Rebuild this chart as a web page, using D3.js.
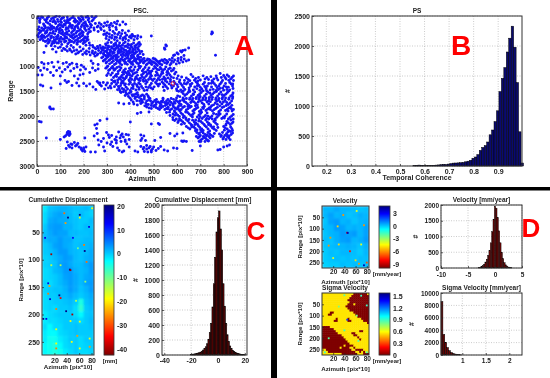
<!DOCTYPE html>
<html>
<head>
<meta charset="utf-8">
<script src="https://cdn.jsdelivr.net/npm/d3@7"></script>
<style>
html, body { margin: 0; padding: 0; background: #fff; }
svg { display: block; filter: blur(0.35px); }
text { font-family: "Liberation Sans", sans-serif; font-weight: bold; fill: #222; }
</style>
</head>
<body>
<script>
// panel A, scatter of [azimuth, range]
const pscPoints = [
[6,20],[14,60],[25,30],[38,90],[50,15],[62,55],[75,25],[88,70],[96,12],[108,40],[118,95],[130,22],[142,60],[155,15],[165,85],[178,35],[190,12],[198,70],[210,25],[222,50],[235,15],[246,40],[12,130],[28,160],[40,120],[55,170],[68,115],[80,150],[92,190],[105,130],[116,170],[128,110],[140,150],[152,190],[164,125],[176,165],[188,105],[200,145],[212,185],[224,120],[236,100],[250,150],[262,200],[275,170],[290,140],[302,120],[318,150],[332,130],[345,105],[8,220],[20,240],[34,205],[48,235],[60,215],[74,245],[86,225],[100,240],[112,215],[126,235],[138,210],[150,245],[162,220],[176,240],[190,215],[204,235],[216,205],[230,225],[244,240],[258,220],[272,235],[285,210],[298,190],[310,230],[324,200],[338,230],[355,180],[368,120],[380,165],
[5,270],[18,300],[30,260],[44,290],[58,275],[70,310],[84,265],[98,295],[110,320],[124,270],[136,300],[148,335],[160,280],[172,310],[186,270],[198,330],[210,290],[222,265],[245,280],[262,310],[275,270],[288,300],[300,340],[312,280],[326,310],[340,270],[352,330],[366,290],[378,340],[392,300],[8,350],[22,380],[36,345],[50,375],[62,400],[76,360],[90,385],[104,350],[118,395],[130,365],[144,410],[158,370],[170,400],[184,355],[196,385],[206,420],[286,370],[298,400],[310,360],[322,390],[334,420],[346,370],[358,400],[370,440],[384,385],[396,420],[408,370],[420,410],[432,395],[445,420],[6,420],[20,450],[34,430],[48,465],[60,440],[74,480],[88,450],[102,425],[116,470],[128,440],[142,490],[156,450],[170,480],[184,430],[198,470],[212,495],[296,450],[308,480],[320,440],[332,470],[344,495],[356,445],[368,480],[380,455],[392,490],[404,440],[416,475],[430,450],[490,400],
[52,520],[64,555],[78,510],[92,540],[106,570],[118,520],[132,555],[146,590],[158,530],[172,565],[186,510],[198,550],[210,585],[224,540],[240,620],[252,660],[262,640],[270,590],[282,620],[294,560],[306,600],[318,530],[330,570],[342,610],[354,540],[366,585],[378,520],[390,560],[402,600],[414,540],[426,580],[438,530],[100,620],[114,650],[128,610],[140,660],[156,630],[170,680],[184,620],[198,660],[212,700],[224,650],[238,700],[250,730],[264,690],[278,660],[290,710],[302,640],[314,680],[326,720],[338,650],[350,700],[362,640],[374,680],[386,720],[398,650],[410,700],[422,630],[434,670],[82,720],[30,730],[130,700],[150,720],[166,760],[180,720],[196,770],[212,760],[228,780],[244,760],[258,780],[272,740],[286,770],[300,730],[312,770],[324,750],[336,790],[348,740],[360,780],[372,730],[384,770],[396,740],[408,780],[420,745],[432,785],[552,580],[555,600],[546,640],[548,665],[625,690],[615,700],[600,740],[605,760],[585,790],[590,780],[750,320],[752,340],[748,360],[765,785],[650,640],[635,680],[620,720],[455,770],
[20,930],[30,960],[48,950],[64,930],[90,920],[112,950],[126,930],[140,970],[150,945],[170,965],[190,985],[232,900],[240,950],[262,970],[282,820],[294,860],[306,810],[318,850],[330,800],[342,840],[354,880],[366,820],[378,860],[390,800],[402,850],[414,810],[426,870],[438,830],[284,900],[296,940],[308,890],[320,930],[332,970],[344,900],[356,950],[368,880],[380,930],[392,900],[404,950],[416,890],[428,940],[440,880],[452,870],[462,900],[474,860],[486,890],[498,850],[510,880],[520,920],[456,940],[468,980],[480,930],[492,970],[504,940],[516,990],[528,960],[540,900],[555,890],[568,870],[580,840],[556,950],[570,980],[590,880],[605,850],[618,830],[630,790],[610,940],[625,920],[640,900],[650,880],
[5,1030],[15,1090],[22,1180],[4,1180],[30,1040],[44,1070],[58,1130],[72,1020],[84,1090],[96,1040],[108,1120],[120,1070],[132,1020],[144,1100],[158,1050],[172,1020],[186,1080],[200,1020],[184,1180],[198,1160],[208,1060],[226,1130],[238,1040],[250,1090],[262,1060],[100,1200],[70,1190],[120,1290],[135,1310],[176,1260],[160,1200],[300,1020],[312,1070],[324,1010],[336,1060],[348,1110],[360,1040],[372,1090],[384,1140],[396,1050],[408,1110],[420,1020],[432,1080],[444,1010],[456,1070],[468,1120],[480,1040],[492,1100],[504,1010],[516,1070],[528,1030],[540,1090],[552,1020],[564,1060],[576,1100],[316,1180],[328,1230],[340,1170],[352,1240],[364,1190],[376,1260],[388,1180],[400,1240],[412,1160],[424,1220],[436,1280],[448,1180],[460,1240],[472,1170],[484,1230],[496,1290],[508,1190],[520,1250],[532,1170],[544,1220],[556,1180],[572,1270],[590,1160],[600,1250],[620,1220],[640,1240],[660,1170],[680,1250],[700,1280],[720,1260],[735,1270],[770,1240],[785,1150],[800,1190],[815,1180],[830,1260],[842,1200],[775,1280],[795,1290],[810,1260],
[15,1380],[25,1400],[60,1440],[100,1360],[128,1330],[150,1390],[170,1340],[180,1400],[200,1350],[212,1400],[226,1360],[240,1420],[252,1470],[264,1340],[276,1400],[290,1460],[302,1340],[314,1400],[328,1310],[340,1370],[352,1440],[364,1310],[376,1380],[388,1460],[400,1330],[412,1400],[424,1480],[436,1340],[448,1410],[460,1490],[472,1320],[484,1390],[496,1460],[508,1330],[520,1400],[536,1320],[548,1380],[560,1450],[572,1310],[585,1400],[598,1460],[610,1320],[622,1390],[634,1470],[646,1330],[658,1400],[670,1480],[682,1320],[694,1390],[706,1460],[718,1330],[730,1400],[742,1480],[754,1320],[766,1390],[778,1470],[790,1330],[802,1400],[814,1470],[826,1330],[838,1400],[355,1490],[372,1470],[400,1490],[545,1490],
[360,1530],[378,1590],[396,1540],[410,1600],[424,1560],[438,1630],[452,1580],[404,1680],[420,1650],[440,1700],[460,1660],[476,1600],[620,1520],[634,1590],[648,1530],[662,1600],[676,1520],[690,1590],[704,1530],[718,1600],[732,1520],[746,1590],[760,1530],[774,1600],[788,1520],[802,1590],[816,1530],[830,1600],[840,1540],[470,1700],[484,1650],[498,1720],[512,1670],[526,1740],[540,1680],[554,1750],[568,1700],[582,1760],[596,1690],[610,1750],[624,1680],[638,1730],[652,1790],[666,1680],[680,1750],[694,1670],[708,1740],[722,1680],[736,1760],[750,1670],[764,1740],[778,1680],[792,1760],[806,1690],[820,1770],[834,1700],[350,1740],[372,1760],[395,1750],[415,1760],[430,1780],[445,1750],[470,1770],[490,1790],[510,1770],[530,1800],[550,1790],[570,1780],
[470,1820],[490,1850],[510,1830],[525,1870],[540,1810],[555,1850],[570,1880],[585,1820],[598,1860],[612,1900],[625,1830],[640,1880],[655,1830],[668,1900],[682,1850],[696,1910],[710,1830],[724,1890],[738,1840],[752,1900],[766,1850],[780,1910],[794,1830],[808,1890],[822,1840],[836,1900],[430,1950],[445,1930],[480,1920],[555,1930],[570,1990],[582,2030],[596,1950],[610,2010],[624,1970],[638,2040],[652,1960],[666,2020],[680,2080],[694,1980],[708,2050],[722,1990],[736,2060],[750,2000],[764,2060],[778,1990],[792,2050],[806,2000],[820,2060],[834,2000],[590,2090],[604,2130],[618,2090],[632,2150],[646,2100],[660,2170],[674,2120],[688,2170],[702,2110],[716,2170],[730,2120],[744,2180],[758,2110],[772,2170],[814,2110],[828,2170],[840,2120],[490,2160],[520,2150],[525,2170],[300,2060],[270,2090],[248,2180],[258,2160],[400,2120],[55,1820],[60,1860],[70,1860],[55,1840],[10,2110],[18,2120],
[640,2210],[655,2260],[672,2220],[686,2280],[698,2230],[712,2290],[726,2220],[740,2300],[752,2240],[768,2290],[782,2360],[800,2210],[815,2260],[830,2220],[838,2290],[685,2330],[700,2390],[712,2340],[726,2400],[740,2360],[754,2410],[795,2330],[805,2390],[818,2320],[832,2370],[690,2440],[702,2480],[716,2430],[730,2480],[742,2440],[800,2430],[810,2470],[822,2440],[570,2350],[625,2340],[600,2360],[130,2330],[136,2350],[128,2370],[138,2390],[122,2400],[140,2320],[116,2420],[40,2440],[100,2470],[205,2440],[298,2330],[306,2380],[320,2390],[334,2470],[350,2320],[360,2390],[370,2420],[382,2370],[356,2440],[340,2420],[310,2430],[395,2470],[255,2250],[258,2350],[245,2400],[262,2480],[285,2450],[445,2380],[458,2400],[450,2450],[465,2490],[445,2490],[505,2490],[530,2430],[590,2400],[630,2500],[620,2500],
[125,2650],[135,2590],[140,2620],[150,2570],[160,2530],[170,2580],[180,2620],[150,2640],[130,2520],[190,2670],[200,2640],[210,2620],[195,2700],[205,2710],[230,2720],[250,2720],[275,2510],[265,2580],[285,2620],[290,2700],[300,2540],[315,2570],[325,2610],[340,2540],[345,2640],[352,2690],[365,2720],[378,2510],[385,2560],[395,2620],[372,2700],[360,2510],[420,2700],[432,2720],[445,2610],[455,2660],[470,2590],[480,2640],[490,2690],[500,2620],[510,2690],[520,2650],[530,2610],[545,2680],[460,2710],[475,2720],[490,2720],[560,2700],[585,2640],[600,2650],[625,2510],[640,2510],[665,2690],[720,2510],[735,2500],[775,2680],[785,2670],[800,2620],[815,2600],[825,2580],[695,2510],[700,2600],
[3,45],[19,18],[33,72],[44,33],[57,98],[69,41],[83,8],[91,112],[103,67],[114,29],[123,143],[137,84],[149,37],[161,52],[173,108],[183,66],[195,31],[207,119],[219,82],[229,164],[241,73],[253,12],[31,188],[47,141],[63,199],[79,121],[97,167],[109,201],[121,181],[133,129],[147,213],[169,197],[181,139],[193,179],[209,159],[27,284],[41,327],[53,251],[67,343],[81,301],[95,331],[107,283],[121,349],[133,251],[153,307],[167,341],[179,293],[193,307],[205,257],[217,361],[229,309],[13,327],[3,391],[17,411],[29,398],[43,407],[57,339],[71,431],[83,417],[97,461],[111,371],[125,417],[139,379],[151,431],[163,419],[177,449],[191,403],[203,443],[217,413],[13,473],[27,491],[41,499],[55,487],[67,513],[81,467],[95,497],[109,459],[123,503],[137,473],[149,511],[163,493],[177,511],[191,487],[205,527],[219,473],
[238,587],[247,637],[259,611],[273,641],[281,683],[291,633],[297,587],[303,671],[309,617],[317,707],[321,643],[329,601],[333,683],[339,577],[347,631],[351,669],[357,603],[363,711],[369,653],[377,611],[381,691],[389,631],[393,579],[399,673],[407,627],[413,661],[419,599],[425,719],[431,641],[437,607],[443,571],[285,747],[293,789],[305,753],[317,793],[331,733],[343,777],[355,729],[367,757],[379,793],[391,763],[403,731],[415,763],[427,717],[441,751],[449,711],[275,721],[261,757],[249,803],[237,737],[223,719],[205,733],[189,697],[175,741],[159,693],[143,687],[121,671],[107,693],[91,637],[77,607],[61,593],[47,547],[39,601],[67,663],[85,541],
[277,837],[289,883],[301,831],[313,873],[325,821],[337,871],[349,817],[361,857],[373,897],[385,841],[397,881],[409,833],[421,893],[433,853],[445,827],[299,917],[311,957],[327,903],[339,949],[351,921],[363,977],[375,911],[387,967],[399,921],[411,971],[423,911],[435,959],[447,903],[459,849],[471,887],[481,871],[493,913],[505,861],[515,903],[459,919],[473,957],[487,947],[499,919],[511,961],[523,941],[535,975],[547,933],[561,919],[575,951],[585,921],[597,961],[603,901],[617,881],[631,861],[577,893],[547,867],[535,877],[527,903],
[295,1043],[307,1091],[319,1037],[331,1087],[343,1031],[355,1081],[367,1127],[379,1061],[391,1111],[403,1021],[415,1073],[427,1127],[439,1043],[451,1097],[463,1031],[475,1079],[487,1137],[499,1057],[511,1117],[523,1077],[535,1119],[547,1063],[559,1103],[571,1043],[583,1083],[595,1123],[305,1147],[323,1141],[335,1197],[347,1153],[359,1221],[371,1163],[383,1211],[395,1149],[407,1199],[419,1141],[431,1187],[443,1243],[455,1153],[467,1207],[479,1143],[491,1197],[503,1257],[515,1151],[527,1209],[539,1143],[551,1261],[563,1143],[575,1213],[605,1197],[320,1277],[334,1299],[346,1279],[358,1267],[370,1293],[382,1233],[394,1281],[406,1269],[418,1291],[430,1253],[442,1293],[454,1273],[466,1289],[478,1271],[490,1259],[514,1289],[526,1277],[538,1265],[550,1297],[562,1241],[585,1237],[612,1281],[632,1291],[648,1269],[668,1213],[692,1231],[712,1197],[728,1231],[745,1213],[758,1259],[768,1197],[790,1231],[806,1229],[822,1211],[836,1231],[842,1289],[655,1293],[675,1285],[690,1297],[750,1295],[822,1287],
[258,1311],[270,1373],[284,1329],[296,1381],[306,1437],[320,1351],[332,1413],[346,1331],[358,1393],[370,1339],[382,1423],[394,1367],[406,1443],[418,1349],[430,1411],[442,1363],[454,1447],[466,1353],[478,1429],[490,1351],[502,1417],[514,1361],[526,1359],[542,1349],[554,1413],[566,1357],[578,1439],[592,1351],[604,1417],[616,1353],[628,1431],[640,1361],[652,1437],[664,1349],[676,1421],[688,1351],[700,1427],[712,1363],[724,1437],[736,1351],[748,1421],[760,1353],[772,1433],[784,1363],[796,1441],[808,1351],[820,1423],[832,1361],[840,1449],[345,1473],[365,1449],[380,1497],[412,1449],[437,1467],[472,1479],[600,1493],[616,1477],[627,1501],[652,1481],[685,1453],[698,1487],[712,1497],[725,1459],[755,1467],[768,1489],[785,1447],[800,1483],[826,1477],
[370,1515],[387,1563],[403,1517],[416,1573],[430,1533],[445,1601],[460,1621],[470,1563],[392,1611],[428,1617],[412,1721],[428,1693],[452,1727],[466,1741],[478,1683],[492,1751],[505,1689],[519,1719],[533,1707],[547,1731],[561,1671],[575,1731],[589,1719],[603,1713],[617,1767],[631,1709],[645,1759],[659,1731],[673,1717],[687,1779],[701,1701],[715,1771],[729,1719],[743,1713],[757,1777],[771,1707],[785,1719],[799,1721],[813,1729],[827,1741],[627,1553],[641,1563],[655,1637],[669,1561],[683,1631],[697,1559],[711,1641],[725,1563],[739,1627],[753,1559],[767,1637],[781,1561],[795,1629],[809,1563],[823,1641],[837,1577],[612,1613],[626,1639],[640,1651],[654,1667],[668,1647],[682,1653],[696,1633],[710,1677],[724,1641],[738,1661],[752,1627],[766,1671],[780,1647],[794,1659],[808,1639],[822,1667],[838,1649],[598,1641],[585,1667],[575,1651],[555,1701],[540,1643],
[462,1797],[480,1841],[500,1811],[518,1849],[532,1837],[548,1871],[562,1823],[577,1861],[592,1841],[604,1829],[618,1869],[632,1811],[647,1857],[661,1811],[675,1871],[689,1829],[703,1881],[717,1809],[731,1863],[745,1817],[759,1873],[773,1827],[787,1881],[801,1813],[815,1869],[829,1823],[842,1871],[568,1923],[583,1961],[590,1917],[603,1983],[617,1939],[631,2003],[645,1929],[659,1991],[673,1941],[687,2021],[701,1951],[715,2017],[729,1941],[743,2029],[757,1951],[771,2027],[785,1959],[799,2023],[813,1961],[827,2029],[841,1971],[597,2061],[611,2057],[625,2121],[639,2071],[653,2137],[667,2083],[681,2141],[695,2057],[709,2141],[723,2079],[737,2147],[751,2059],[765,2139],[820,2137],[835,2147],[583,2073],
[648,2237],[664,2191],[678,2249],[692,2201],[706,2257],[720,2197],[733,2261],[746,2207],[760,2263],[775,2231],[806,2237],[822,2293],[809,2183],[835,2253],[679,2297],[693,2361],[706,2311],[720,2371],[733,2331],[747,2387],[760,2350],[790,2390],[812,2353],[824,2399],[838,2341],[683,2411],[696,2417],[709,2457],[723,2451],[737,2411],[788,2411],[797,2459],[816,2417],[828,2473],[702,2511],
[142,2360],[134,2310],[145,2560],[165,2600],[175,2550],[200,2665],[188,2640],[458,2630],[470,2660],[485,2610],[495,2660],[340,2490],[320,2520],[378,2480],[392,2380],[365,2360],
[607,1507],[655,1511],[671,1571],[699,1609],[727,1497],[741,1543],[769,1511],[793,1573],[821,1507],[839,1621],[603,1597],[629,1671],[663,1709],[691,1721],[735,1697],[773,1767],[811,1789],[835,1787],[617,1789],[647,1811],[679,1797],[713,1849],[749,1793],[783,1797],[833,1853],[607,1871],[637,1921],[673,1887],[705,1923],[743,1871],[779,1941],[819,1901],[591,1987],[627,2031],[667,1969],[699,2013],[733,2003],[769,1967],[803,2041],[841,2061],[607,2093],[651,2071],[693,2099],[727,2049],[763,2083],[831,2081],[619,2167],[677,2171],[735,2173],[811,2157],[663,2221],[701,2277],[757,2217],[803,2283],[829,2311],[697,2337],[729,2379],[815,2377],[713,2411],[733,2497],
[303,1003],[327,1051],[353,1013],[377,1123],[401,1089],[437,1003],[459,1131],[483,1109],[509,1039],[533,1059],[557,1127],[587,1049],[299,1189],[341,1211],[369,1237],[399,1187],[421,1253],[451,1213],[487,1181],[519,1187],[547,1249],[569,1177],[333,1321],[361,1351],[397,1311],[427,1373],[457,1307],[489,1439],[519,1367],[557,1321],[587,1311],[269,1339],[317,1439],[349,1409],[379,1361],[409,1373],[437,1433],[467,1417],[541,1419],[575,1389],[601,1373],[631,1349],[657,1367],[687,1393],[719,1411],[747,1347],[779,1403],[811,1417],[839,1361],
[11,97],[43,61],[73,89],[101,109],[131,71],[159,103],[187,79],[217,11],[37,237],[71,223],[103,187],[143,177],[173,211],[203,199],[233,183],[267,139],[311,183],[341,161],[11,291],[37,313],[65,257],[93,271],[127,323],[161,259],[191,341],[221,331],[293,361],[333,351],[363,353],[401,401],[25,431],[59,417],[89,409],[119,443],[151,389],[181,377],[213,449],[311,421],[341,431],[377,419],[411,401],[35,511],[73,539],[103,513],[139,527],[171,541],[201,501],[227,587],[303,533],[337,541],[371,547],[405,571],[433,553],[287,651],[319,613],[351,587],[383,599],[411,679],[439,699],[297,697],[329,661],[359,679],[393,703],[421,673],[313,727],[347,713],[383,747],[413,729],[303,791],[339,823],[371,781],[403,797],[431,813],[297,801],[325,851],[357,901],[391,847],[419,851],[343,889],[377,951],[409,921],[441,931],
[357,1517],[381,1537],[407,1573],[433,1579],[459,1601],[479,1631],[399,1643],[421,1617],[447,1663],[487,1701],[511,1731],[537,1721],[563,1741],[591,1747],[613,1701],[451,1701],[477,1771],[503,1789],[531,1767],[557,1771],[583,1789],[607,1801],[527,1811],[561,1857],[589,1893]
];
const pscReference = [583, 1350];

// panel B, histogram
const coherenceStart = 0.558;
const coherenceWidth = 0.01;
const coherenceCounts = [10,12,15,10,8,8,10,10,12,15,18,22,28,25,32,40,48,50,52,55,60,70,80,95,130,150,190,260,310,340,400,520,600,740,920,1240,1460,1640,1900,2130,2330,1980,1390,570,50];

// panel C, map cells in mm (rows top to bottom) and isolated points [azimuth, range, mm]
const displacementGrid = [
[-2,.5,1,1.5,1.5,1,.5,.5,1,0],
[-1,1,2,2.5,1.5,1,0,1,0,-.5],
[-1,2,2.5,2,2,1,.5,0,0,1],
[0,2.5,3,3,1.5,1.5,.5,0,1,.5],
[.5,2,3,2.5,2.5,1,1,.5,.5,1],
[1,2,2,3,2,2,.5,.5,1,1],
[0,1,2.5,3,2,1.5,.5,1,1,1.5],
[0,.5,1.5,3,3,1.5,1,.5,1,2],
[-.5,0,1,2,3,2.5,1,.5,1.5,2],
[-.5,0,.5,2.5,3,2,1,1,2,3],
[-1,-.5,1,1.5,3,3,1.5,1,1.5,3],
[-1,-.5,0,1,2.5,3,2,1,2,2.5],
[-.5,-1,0,1,2,3,2,1,2.5,3],
[-.5,0,.5,.5,1.5,3,2,.5,1.5,3],
[-1,0,0,1,1,2,1,0,1,2],
[-1,-.5,0,0,.5,1,0,-5,.5,1.5],
[-1,-.5,-1,0,0,.5,-1,-6,0,1],
[-2,-1,-.5,0,0,0,-1,-3,0,.5],
[-2,-1,-1,-.5,0,0,0,-1,0,1],
[-1,-3,-1,-1,0,0,.5,0,0,.5],
[-2,-3,-3,-1,-.5,0,.5,0,0,0],
[-2,-4,-4,-2,-1,0,0,-1,0,0],
[-3,-4,-5,-3,-1,-.5,0,-1,-.5,0],
[-3,-4,-5,-4,-2,-1,0,-1,-1,-.5]
];
const displacementSpecks = [[36,15,-28],[42,23,20],[38,33,-25],[61,18,20],[61,23,-18],[76,40,14],[81,6,-18],[68,73,-27],[58,79,-10],[69,84,20],[72,104,-28],[15,90,-40],[45,118,20],[46,119,-40],[10,143,14],[12,148,-25],[10,162,-27],[28,165,20],[30,170,-35],[13,172,14],[23,190,-27],[39,194,20],[49,200,-40],[2,208,20],[7,208,14],[46,212,-18],[61,213,-18],[23,227,-18],[57,239,-25],[77,244,-18],[48,250,-18],[23,262,-27],[23,253,-18],[61,262,-18],[77,259,-25],[15,110,-15],[55,175,-14],[5,60,14],[50,60,12],[70,140,-12],[30,110,-14]];
const displacementTicks = [20,10,0,-10,-20,-30,-40];

const displacementBins = [-20,-19,-18,-17,-16,-15,-14,-13,-12,-11,-10,-9,-8,-7,-6,-5,-4,-3,-2,-1,0,1,2,3,4,5,6,7,8,9,10,11,12,13,14,15,16,17,18,19,20];
const displacementCounts = [8,10,12,15,20,25,30,38,50,65,85,110,150,210,300,420,640,950,1300,1640,1830,1920,1680,1400,950,650,420,270,180,120,85,60,45,35,25,20,15,10,8,5,3];

// panel D, velocity map
const velocityGrid = [
[.3,.3,.5,.3,.3,.2,.1,.2],
[.3,.6,.3,.4,.1,.2,.4,.3],
[.1,.6,.7,.3,.4,.1,.3,.4],
[.2,.3,.7,.6,.3,.4,.3,.6],
[.1,.3,.4,.7,.6,.7,.3,.6],
[.2,.1,.4,.6,.7,.3,.4,.7],
[.1,.2,.3,.3,.4,.3,.1,.4],
[0,.2,.1,.3,.3,.2,0,.3],
[0,.1,.2,.1,.2,.1,.2,.2],
[-.1,0,0,.2,.1,.2,.1,.2]
];
const velocitySpecks = [[45,118,-9],[46,119,4],[15,140,-6],[30,170,-5],[50,200,-8],[62,22,-4],[75,85,-6],[28,90,-5],[70,170,-4],[80,250,-7],[75,262,4],[20,230,-4],[60,240,-5],[38,40,-6],[12,175,-6],[66,255,-6]];
const velocityTicks = [3,0,-3,-6,-9];

const velocityBins = [-3,-2.75,-2.5,-2.25,-2,-1.75,-1.5,-1.25,-1,-.75,-.5,-.25,0,.25,.5,.75,1,1.25,1.5,1.75,2,2.25,2.5,2.75,3];
const velocityCounts = [10,20,40,70,120,190,280,400,560,800,1150,1550,1960,1900,1600,1180,800,500,300,170,100,60,30,15,8];

// sigma map, one digit per cell, 0 is about 0 mm/year and 5 about 0.55
const sigmaRows = [
"555555555555555500000005",
"555555555555555000000000",
"555555555555550000000000",
"555555555555500000000000",
"555555555555550000000000",
"555555555555500050000000",
"555555555555000000000000",
"555555555555500000000000",
"555555555555550000000000",
"555500555555555500000000",
"555005555555555550000000",
"555555555555555555000000",
"555555505555505555550000",
"555555005555500555555000",
"555555555555555555555550",
"555555555555555555555555",
"000055555555555555555555",
"000000555555555555555555",
"000000055555555555500555",
"000000005555555005555555",
"000000000055555500555555",
"000000000005555555055555",
"000000000000555555505555",
"000000000000055555555555",
"000000000000005555555555",
"000000000005000055555555",
"000000000500005505555555",
"550000000000000550000555",
"555000000000000005505055",
"555555555500000000555000"
];
const sigmaSpecks = [[45,118,1.3],[40,10,.85],[70,12,.9],[80,55,.9],[30,60,.8],[12,200,.85],[40,165,.9],[65,212,.85],[5,262,.9],[80,262,.85],[62,100,.8]];
const sigmaTicks = [1.5,1.2,.9,.6,.3,0];

const sigmaStart = 0.566;
const sigmaWidth = 0.04;
const sigmaCounts = [8600,3300,2000,1200,700,400,250,150,80,50,30];

const svg = d3.select("body").append("svg").attr("width", 550).attr("height", 378);

function jet(lo, hi) {
    let s = d3.scaleLinear()
        .domain([0, .125, .375, .625, .875, 1].map(t => hi - t * (hi - lo)))
        .range(["#00007f", "#0000ff", "#00ffff", "#ffff00", "#ff0000", "#7f0000"])
        .clamp(true);
    return s;
}

// frame, ticks, dotted grid and labels for one axes box
function drawAxes(box, x, y, o) {
    let g = svg.append("g");
    let xa = d3.axisBottom(x).tickValues(o.xTicks).tickFormat(o.xFormat || String).tickSize(-2).tickPadding(o.xPad || 3);
    let ya = d3.axisLeft(y).tickValues(o.yTicks).tickFormat(String).tickSize(-2).tickPadding(2);

    if (o.grid) {
        g.selectAll(".gx").data(o.xTicks).enter().append("line")
            .attr("x1", d => x(d)).attr("x2", d => x(d))
            .attr("y1", box.y0).attr("y2", box.y1)
            .attr("stroke", "#aaa").attr("stroke-width", 0.6).attr("stroke-dasharray", "1,1.5");
        g.selectAll(".gy").data(o.yTicks).enter().append("line")
            .attr("x1", box.x0).attr("x2", box.x1)
            .attr("y1", d => y(d)).attr("y2", d => y(d))
            .attr("stroke", "#aaa").attr("stroke-width", 0.6).attr("stroke-dasharray", "1,1.5");
    }

    let over = svg.append("g").attr("class", "frame");
    o.marks && o.marks(g);

    let xg = over.append("g").attr("transform", "translate(0," + box.y1 + ")").call(xa);
    let yg = over.append("g").attr("transform", "translate(" + box.x0 + ",0)").call(ya);
    xg.select(".domain").remove();
    yg.select(".domain").remove();
    over.selectAll(".tick line").attr("stroke", "#222").attr("stroke-width", 0.7);
    over.selectAll(".tick text").attr("font-size", o.tickSize || 7).style("fill", "#222");
    over.append("rect")
        .attr("x", box.x0).attr("y", box.y0)
        .attr("width", box.x1 - box.x0).attr("height", box.y1 - box.y0)
        .attr("fill", "none").attr("stroke", "#333").attr("stroke-width", 1);

    over.append("text").attr("x", o.titleX || (box.x0 + box.x1) / 2).attr("y", box.y0 - 3.5)
        .attr("text-anchor", "middle").attr("font-size", o.titleSize || 6.5).text(o.title);
    if (o.xLabel) {
        over.append("text").attr("x", (box.x0 + box.x1) / 2).attr("y", box.y1 + (o.xLabelDy || 13))
            .attr("text-anchor", "middle").attr("font-size", o.labelSize || 7).text(o.xLabel);
    }
    if (o.yLabel) {
        over.append("text")
            .attr("transform", "translate(" + (box.x0 - (o.yLabelDx || 22)) + "," + (box.y0 + box.y1) / 2 + ") rotate(-90)")
            .attr("text-anchor", "middle").attr("font-size", o.labelSize || 7).text(o.yLabel);
    }
}

function histogram(box, xDomain, yMax, bars, width, fill, o) {
    let x = d3.scaleLinear().domain(xDomain).range([box.x0, box.x1]);
    let y = d3.scaleLinear().domain([0, yMax]).range([box.y1, box.y0]);
    o.grid = true;
    o.marks = function(g) {
        g.selectAll(".bar").data(bars).enter().append("rect")
            .attr("x", d => x(d[0] - width / 2))
            .attr("width", d => x(d[0] + width / 2) - x(d[0] - width / 2))
            .attr("y", d => y(d[1]))
            .attr("height", d => box.y1 - y(d[1]))
            .attr("fill", fill).attr("stroke", "#000").attr("stroke-width", o.barStroke || 0.5);
    };
    drawAxes(box, x, y, o);
}

function mapPanel(box, grid, specks, xMax, yMax, color, o) {
    let x = d3.scaleLinear().domain([0, xMax]).range([box.x0, box.x1]);
    let y = d3.scaleLinear().domain([0, yMax]).range([box.y0, box.y1]);
    let cols = d3.scaleBand().domain(d3.range(grid[0].length)).range([box.x0, box.x1]);
    let rows = d3.scaleBand().domain(d3.range(grid.length)).range([box.y0, box.y1]);
    let id = "clip" + box.x0 + box.y0;
    let blur = "blur" + box.x0 + box.y0;
    let defs = svg.append("defs");
    defs.append("clipPath").attr("id", id).append("rect")
        .attr("x", box.x0).attr("y", box.y0).attr("width", box.x1 - box.x0).attr("height", box.y1 - box.y0);
    defs.append("filter").attr("id", blur).append("feGaussianBlur").attr("stdDeviation", o.smooth);
    o.marks = function(g) {
        let inner = g.append("g").attr("clip-path", "url(#" + id + ")");
        let cells = inner.append("g").attr("filter", "url(#" + blur + ")");
        grid.forEach(function(row, r) {
            cells.selectAll(".c" + r).data(row).enter().append("rect")
                .attr("x", (d, c) => cols(c)).attr("y", rows(r))
                .attr("width", cols.bandwidth() + 0.5).attr("height", rows.bandwidth() + 0.5)
                .attr("fill", d => color(d));
        });
        inner.selectAll(".speck").data(specks).enter().append("rect")
            .attr("x", d => x(d[0]) - 0.9).attr("y", d => y(d[1]) - 0.9)
            .attr("width", 1.8).attr("height", 1.8)
            .attr("fill", d => color(d[2]));
    };
    drawAxes(box, x, y, o);
}

function colorbar(box, lo, hi, ticks, color, label, labelX) {
    let y = d3.scaleLinear().domain([lo, hi]).range([box.y1, box.y0]);
    let g = svg.append("g");
    g.selectAll("rect").data(d3.range(box.y0, box.y1)).enter().append("rect")
        .attr("x", box.x0).attr("y", d => d)
        .attr("width", box.x1 - box.x0).attr("height", 1.2)
        .attr("fill", d => color(y.invert(d + 0.5)));
    g.append("rect")
        .attr("x", box.x0).attr("y", box.y0)
        .attr("width", box.x1 - box.x0).attr("height", box.y1 - box.y0)
        .attr("fill", "none").attr("stroke", "#333").attr("stroke-width", 0.8);
    let ax = g.append("g").attr("transform", "translate(" + box.x1 + ",0)")
        .call(d3.axisRight(y).tickValues(ticks).tickFormat(String).tickSize(0).tickPadding(3));
    ax.select(".domain").remove();
    ax.selectAll("text").attr("font-size", 7).style("fill", "#222");
    g.append("text").attr("x", labelX).attr("y", box.y1 + 8)
        .attr("text-anchor", "middle").attr("font-size", 6).text(label);
}

// panel A
(function() {
    let box = {x0: 37, x1: 247, y0: 16, y1: 166};
    let x = d3.scaleLinear().domain([0, 900]).range([box.x0, box.x1]);
    let y = d3.scaleLinear().domain([0, 3000]).range([box.y0, box.y1]);
    drawAxes(box, x, y, {
        grid: true,
        xTicks: d3.range(0, 901, 100), yTicks: d3.range(0, 3001, 500),
        title: "PSC.", titleX: 141, xLabel: "Azimuth", xLabelDy: 15, yLabel: "Range", yLabelDx: 24,
        marks: function(g) {
            g.selectAll("circle.p").data(pscPoints).enter().append("circle")
                .attr("cx", d => x(d[0])).attr("cy", d => y(d[1])).attr("r", 1.45)
                .attr("fill", "#1414f5");
            g.append("circle").attr("cx", x(pscReference[0])).attr("cy", y(pscReference[1]))
                .attr("r", 1.8).attr("fill", "none").attr("stroke", "#e01030").attr("stroke-width", 0.9);
        }
    });
})();

// panel B
histogram({x0: 312, x1: 522, y0: 16, y1: 166}, [0.1416, 0.997], 2500,
    coherenceCounts.map((c, i) => [coherenceStart + i * coherenceWidth, c]), coherenceWidth, "#0a0a6e", {
    xTicks: [.2,.3,.4,.5,.6,.7,.8,.9], yTicks: d3.range(0, 2501, 500), xFormat: d3.format(".1f"),
    title: "PS", xLabel: "Temporal Coherence", xLabelDy: 14, yLabel: "#", yLabelDx: 22
});

// panel C
const dispColor = jet(-42.5, 20.4);
mapPanel({x0: 42, x1: 94, y0: 205, y1: 355}, displacementGrid, displacementSpecks, 84, 274, dispColor, {
    smooth: 1.2, labelSize: 6.2,
    xTicks: [20,40,60,80], yTicks: [50,100,150,200,250],
    title: "Cumulative Displacement", titleX: 68, xLabel: "Azimuth [pix*10]", xLabelDy: 14,
    yLabel: "Range [pix*10]", yLabelDx: 19
});
colorbar({x0: 104, x1: 114, y0: 205, y1: 355}, -42.5, 20.4, displacementTicks, dispColor, "[mm]", 110);
histogram({x0: 162, x1: 247, y0: 205, y1: 355}, [-41.7, 21.6], 2000,
    displacementBins.map((b, i) => [b, displacementCounts[i]]), 1, "#6a0606", {
    xTicks: [-40,-20,0,20], yTicks: d3.range(0, 2001, 200), barStroke: 0.6,
    title: "Cumulative Displacement [mm]", titleX: 203, yLabel: "#", yLabelDx: 24
});

// panel D
const velColor = jet(-10, 4.8);
mapPanel({x0: 322, x1: 369, y0: 206, y1: 268}, velocityGrid, velocitySpecks, 84, 274, velColor, {
    smooth: 1, labelSize: 6.2, tickSize: 6.5, xPad: 1.5,
    xTicks: [20,40,60,80], yTicks: [50,100,150,200,250],
    title: "Velocity", titleX: 345, xLabel: "Azimuth [pix*10]", xLabelDy: 16,
    yLabel: "Range [pix*10]", yLabelDx: 20
});
colorbar({x0: 379, x1: 390, y0: 206, y1: 268}, -10, 4.8, velocityTicks, velColor, "[mm/year]", 387);
histogram({x0: 441, x1: 522, y0: 205, y1: 268}, [-10, 5], 2000,
    velocityBins.map((b, i) => [b, velocityCounts[i]]), .25, "#6a0606", {
    xTicks: [-10,-5,0,5], yTicks: d3.range(0, 2001, 500), tickSize: 6.5, xPad: 4, barStroke: 0.4,
    title: "Velocity [mm/year]", yLabel: "#", yLabelDx: 23
});

const sigmaGrid = sigmaRows.map(r => r.split("").map(c => +c * 0.11));
const sigmaColor = jet(0, 1.575);
mapPanel({x0: 322, x1: 369, y0: 293, y1: 355}, sigmaGrid, sigmaSpecks, 84, 274, sigmaColor, {
    smooth: 0.5, labelSize: 6.2, tickSize: 6.5, xPad: 1.5,
    xTicks: [20,40,60,80], yTicks: [50,100,150,200,250],
    title: "Sigma Velocity", titleX: 345, xLabel: "Azimuth [pix*10]", xLabelDy: 16,
    yLabel: "Range [pix*10]", yLabelDx: 20
});
colorbar({x0: 379, x1: 390, y0: 293, y1: 355}, 0, 1.575, sigmaTicks, sigmaColor, "[mm/year]", 387);
histogram({x0: 441, x1: 522, y0: 293, y1: 355}, [0.546, 2.27], 10000,
    sigmaCounts.map((c, i) => [sigmaStart + i * sigmaWidth, c]), sigmaWidth, "#6a0606", {
    xTicks: [1,1.5,2], yTicks: d3.range(0, 10001, 2000), tickSize: 6.5,
    title: "Sigma Velocity [mm/year]", yLabel: "#", yLabelDx: 27
});

// separators and panel letters
svg.append("rect").attr("x", 0).attr("y", 187).attr("width", 550).attr("height", 3.5).attr("fill", "#000");
svg.append("rect").attr("x", 271).attr("y", 0).attr("width", 6).attr("height", 378).attr("fill", "#000");

const letters = [["A", 244, 55, 28], ["B", 461, 55, 28], ["C", 256, 240, 26], ["D", 531, 237, 26]];
svg.selectAll(".letter").data(letters).enter().append("text")
    .attr("x", d => d[1]).attr("y", d => d[2])
    .attr("text-anchor", "middle").attr("font-size", d => d[3])
    .style("fill", "#ff0000").text(d => d[0]);
</script>
</body>
</html>
